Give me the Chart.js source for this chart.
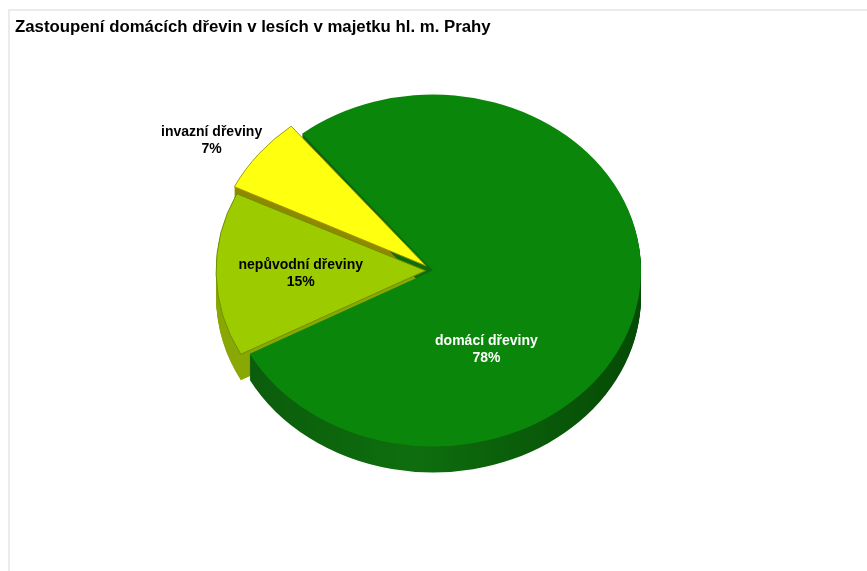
<!DOCTYPE html>
<html>
<head>
<meta charset="utf-8">
<title>Zastoupení dřevin</title>
<script src="https://cdn.jsdelivr.net/npm/chart.js@4"></script>
<style>
  html, body { margin: 0; padding: 0; background: #fff; }
  #frame {
    position: absolute; left: 8px; top: 9px; width: 900px; height: 600px;
    border-top: 2px solid #ebebeb; border-left: 2px solid #ebebeb;
  }
  #wrap { position: absolute; left: 0; top: 0; width: 867px; height: 571px; }
</style>
</head>
<body>
<div id="frame"></div>
<div id="wrap"><canvas id="pie"></canvas></div>
<script>
// Share of tree species in forests owned by the City of Prague (%)
const categories = ["domácí dřeviny", "nepůvodní dřeviny", "invazní dřeviny"]
const shares = [78, 15, 7]

// Face colours: top, side wall, outline
const topColors = ["#0a870a", "#9ccc00", "#ffff10"]
const sideColors = ["#0a5f0a", "#8aa806", "#8f8a00"]
const edgeColors = ["#0a7a0a", "#6f8c00", "#9a9600"]
const labelColors = ["#ffffff", "#000000", "#000000"]

const TILT = 0.846 // vertical squash of the pie disc
const DEPTH = 26 // thickness of the disc in px

// Copy of arc options used to paint the side walls
function wallOptions(o, color) {
  return {
    offset: o.offset,
    spacing: o.spacing,
    circular: o.circular,
    borderAlign: o.borderAlign,
    borderRadius: 0,
    borderWidth: 0,
    borderColor: color,
    backgroundColor: color,
    borderJoinStyle: o.borderJoinStyle,
    borderDash: [],
    borderDashOffset: 0,
  }
}

const pie3d = {
  id: "pie3d",
  beforeDatasetsDraw(chart) {
    const ctx = chart.ctx
    const arcs = chart.getDatasetMeta(0).data
    const cx = arcs[0].x
    const cy = arcs[0].y
    ctx.save()
    ctx.translate(cx, cy)
    ctx.scale(1, TILT)
    ctx.translate(-cx, -cy)

    // side walls, slices at the back first
    ;[2, 1, 0].forEach((i) => {
      const arc = arcs[i]
      const saved = arc.options
      let fill = sideColors[i]
      if (i === 0) {
        const g = ctx.createLinearGradient(cx - arc.outerRadius, 0, cx + arc.outerRadius, 0)
        g.addColorStop(0, "#0b5a0b")
        g.addColorStop(0.45, "#0e6e0e")
        g.addColorStop(1, "#054a05")
        fill = g
      }
      arc.options = wallOptions(saved, fill)
      for (let d = DEPTH; d >= 1; d--) {
        ctx.save()
        ctx.translate(0, d / TILT)
        arc.draw(ctx)
        ctx.restore()
      }
      arc.options = saved
    })
  },
  afterDatasetsDraw(chart, args, opts) {
    const ctx = chart.ctx
    ctx.restore()

    const arcs = chart.getDatasetMeta(0).data
    const cy = arcs[0].y
    ctx.save()
    ctx.font = "bold 14px 'Liberation Sans', Arial, sans-serif"
    ctx.textAlign = "center"
    ctx.textBaseline = "middle"
    arcs.forEach((arc, i) => {
      const mid = (arc.startAngle + arc.endAngle) / 2
      const shift = (arc.options.offset || 0) / 4
      const ox = arc.x + Math.cos(mid) * shift
      const oy = arc.y + Math.sin(mid) * shift
      const place = opts.labelAt[i]
      const a = (place.deg * Math.PI) / 180
      const r = place.r * arc.outerRadius
      const x = ox + Math.cos(a) * r
      const y = cy + (oy + Math.sin(a) * r - cy) * TILT
      ctx.fillStyle = labelColors[i]
      ctx.fillText(categories[i], x, y - 8.5)
      ctx.fillText(shares[i] + "%", x, y + 8.5)
    })
    ctx.restore()
  },
}

new Chart(document.getElementById("pie"), {
  type: "pie",
  data: {
    labels: categories,
    datasets: [
      {
        data: shares,
        backgroundColor: topColors,
        borderColor: edgeColors,
        borderWidth: [0, 1, 1],
        offset: [0, 30, 36],
        hoverOffset: 0,
      },
    ],
  },
  plugins: [pie3d],
  options: {
    responsive: true,
    maintainAspectRatio: false,
    animation: false,
    rotation: -39,
    radius: 208,
    layout: { padding: { left: 15, right: 16, top: 0, bottom: 67 } },
    plugins: {
      legend: { display: false },
      tooltip: { enabled: false },
      title: {
        display: true,
        text: "Zastoupení domácích dřevin v lesích v majetku hl. m. Prahy",
        align: "start",
        color: "#000",
        font: { family: "'Liberation Sans', Arial, sans-serif", size: 16.8, weight: "bold" },
        padding: { top: 17, bottom: 0 },
      },
      pie3d: {
        labelAt: [
          { deg: 60.1, r: 0.515 },
          { deg: 178.5, r: 0.6 },
          { deg: -145.4, r: 1.252 },
        ],
      },
    },
  },
})
</script>
</body>
</html>
